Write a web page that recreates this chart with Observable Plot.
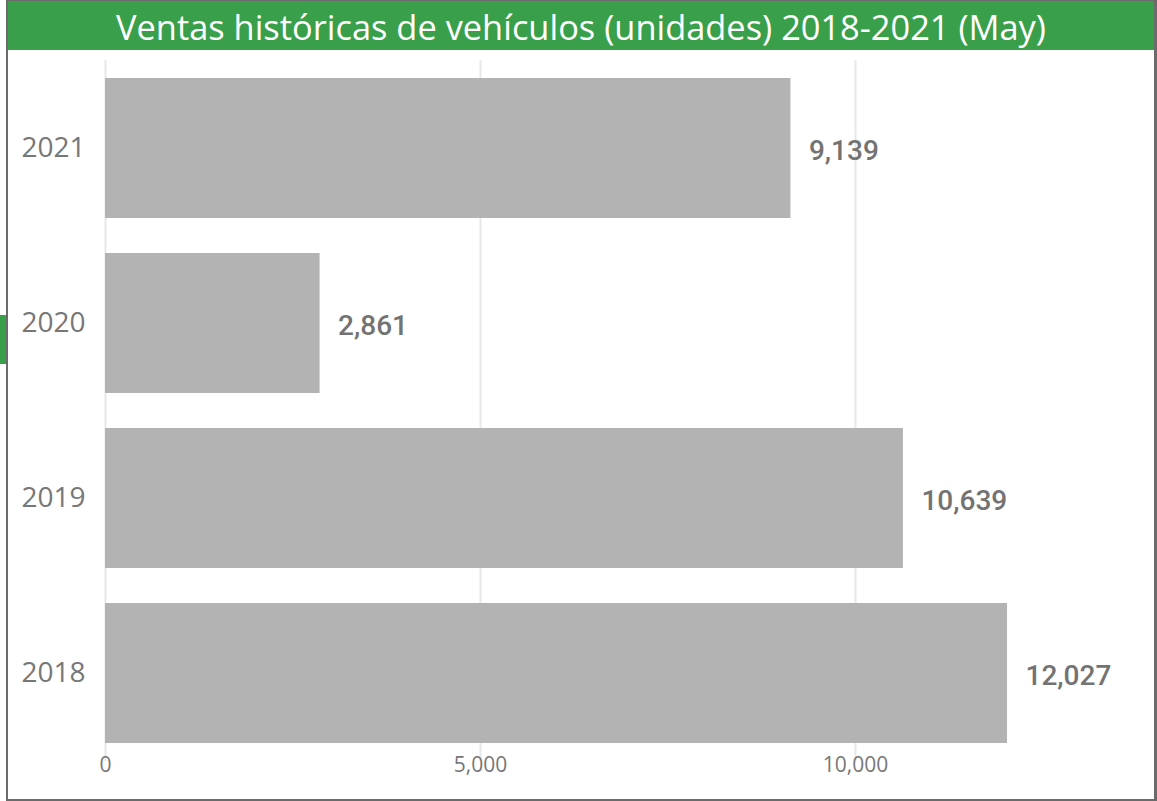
<!DOCTYPE html>
<html>
<head>
<meta charset="utf-8">
<script src="https://cdn.jsdelivr.net/npm/d3@7"></script>
<script src="https://cdn.jsdelivr.net/npm/@observablehq/plot@0.6"></script>
<style>
  html, body { margin: 0; padding: 0; background: #fff; }
  #wrap { position: relative; width: 1157px; height: 801px; overflow: hidden; }
  #frame { position: absolute; left: 6px; top: 0; width: 1151px; height: 801px; box-sizing: border-box;
           border-left: 2px solid #6b6b6b; border-right: 3px solid #6b6b6b; border-top: 1px solid #6b6b6b; border-bottom: 2px solid #6b6b6b; }
  #title { position: absolute; left: 8px; top: 1px; width: 1146px; height: 49px; background: #3a9f4a; color: #fff;
           font-family: "Open Sans", sans-serif; font-size: 34.4px; line-height: 51px; text-align: center; white-space: nowrap; overflow: hidden; }
  #tab { position: absolute; left: 0; top: 315px; width: 6px; height: 49px; background: #3a9f4a; }
  #chart { position: absolute; left: 0; top: 0; }
</style>
</head>
<body>
<div id="wrap">
  <div id="frame"></div>
  <div id="title">Ventas históricas de vehículos (unidades) 2018-2021 (May)</div>
  <div id="tab"></div>
  <div id="chart"></div>
</div>
<script>
const years = ["2021", "2020", "2019", "2018"];
const ventas = [9139, 2861, 10639, 12027];
const xTicks = [0, 5000, 10000];

const data = years.map((y, i) => ({year: y, value: ventas[i]}));
const fmt = d3.format(",");

const chart = Plot.plot({
  width: 1157,
  height: 801,
  marginTop: 60,
  marginBottom: 40,
  marginLeft: 105,
  marginRight: 77,
  style: {background: "transparent", fontFamily: "Open Sans, sans-serif", overflow: "visible"},
  x: {domain: [0, 13000]},
  y: {domain: years, paddingInner: 0.2, paddingOuter: 0.1},
  marks: [
    Plot.ruleX(xTicks, {x: d => d, stroke: "#e8e8e8", strokeWidth: 2}),
    Plot.barX(data, {x: "value", y: "year", fill: "#b3b3b3"}),
    Plot.text(data, {x: "value", y: "year", text: d => fmt(d.value), textAnchor: "start", dx: 18, dy: 3,
      fill: "#737373", fontSize: 28, fontWeight: 500, fontFamily: "Roboto, sans-serif"}),
    Plot.axisY({tickSize: 0, tickPadding: 20, fontSize: 28, color: "#777", label: null}),
    Plot.axisX({ticks: xTicks, tickFormat: fmt, tickSize: 0, tickPadding: -4, fontSize: 21, color: "#777", label: null})
  ]
});
document.getElementById("chart").appendChild(chart);
</script>
</body>
</html>
